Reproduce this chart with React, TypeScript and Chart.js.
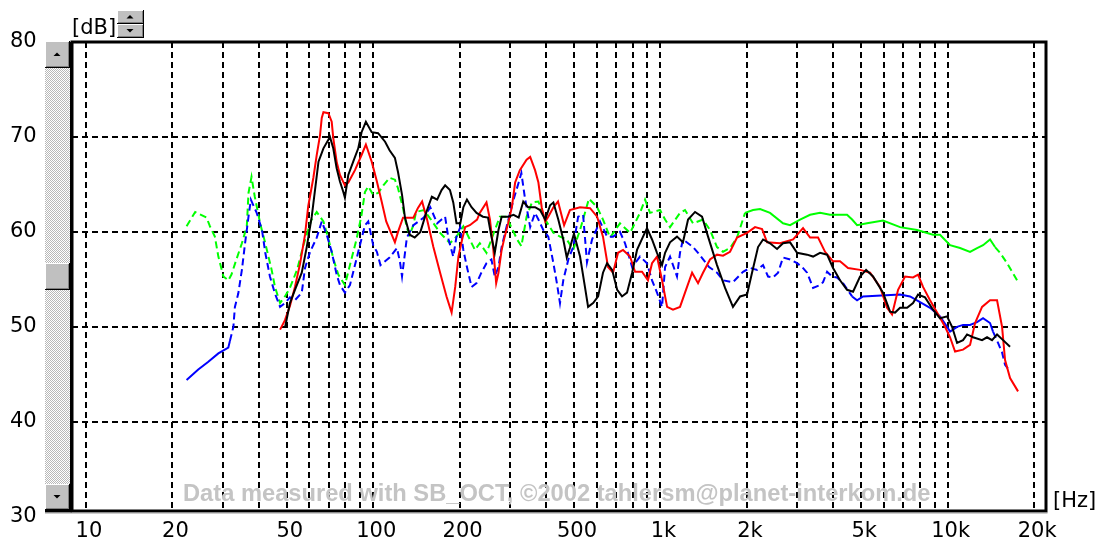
import React, { useEffect, useRef } from 'react';
import { Chart, registerables } from 'chart.js';

Chart.register(...registerables);

// ---- axes ----
const xGridHz = [10, 20, 30, 40, 50, 60, 70, 80, 90, 100, 200, 300, 400, 500, 600, 700, 800, 900,
  1000, 2000, 3000, 4000, 5000, 6000, 7000, 8000, 9000, 10000, 20000];
const xTickLabels: Record<number, string> = {
  10: '10', 20: '20', 50: '50', 100: '100', 200: '200', 500: '500',
  1000: '1k', 2000: '2k', 5000: '5k', 10000: '10k', 20000: '20k',
};
const yTicks = [30, 40, 50, 60, 70, 80];
const xMin = 8.94;
const xMax = 22000;
const yMin = 30.6;
const yMax = 80;

// ---- series: [Hz, dB] ----
const green: [number, number][] = [
  [22.4, 60.6], [24.0, 62.1], [26.3, 61.5], [27.0, 60.6], [28.1, 59.5], [28.9, 57.4], [30.1, 55.3], [31.3, 54.9],
  [32.1, 55.5], [33.4, 57.1], [34.9, 58.8], [36.3, 60.6], [36.8, 64.1], [37.7, 65.8], [38.7, 63.7], [40.4, 60.9],
  [42.1, 58.8], [44.3, 56.0], [45.5, 54.2], [47.4, 52.5], [49.3, 53.2], [51.3, 54.1], [54.3, 56.0], [57.4, 58.8],
  [60.8, 61.2], [63.6, 62.1], [67.1, 61.1], [69.8, 59.3], [72.6, 57.2], [75.6, 55.5], [79.7, 54.4], [83.0, 56.5],
  [87.6, 59.3], [91.1, 61.8], [93.6, 64.2], [96.1, 64.8], [100, 63.9], [104, 64.1], [108.5, 64.9], [114, 65.7],
  [119, 65.5], [122, 64.6], [127, 62.5], [131, 60.4], [134, 59.7], [138, 60.7], [141, 62.1], [150, 62.3],
  [158, 61.4], [171, 59.9], [185, 58.8], [195, 59.5], [206, 60.6], [217, 59.2], [226, 58.1], [235, 58.8],
  [248, 57.8], [258, 59.2], [276, 61.6], [291, 61.6], [317, 59.2], [328, 58.5], [342, 61.6], [357, 63.1],
  [376, 63.2], [397, 61.3], [424, 59.9], [447, 59.5], [472, 59.2], [497, 58.1], [525, 60.2], [564, 63.5],
  [602, 62.6], [631, 61.3], [668, 59.4], [723, 60.9], [784, 59.9], [849, 62.0], [884, 63.4], [920, 62.0],
  [997, 62.3], [1038, 61.3], [1080, 60.5], [1170, 62.0], [1218, 62.3], [1299, 60.9], [1407, 61.3], [1488, 60.2],
  [1574, 58.4], [1652, 57.9], [1747, 58.3], [1848, 59.4], [1971, 62.0], [2101, 62.3], [2223, 62.4], [2408, 62.0],
  [2672, 60.9], [2828, 60.7], [3063, 61.3], [3319, 61.8], [3596, 62.0], [3895, 61.8], [4464, 61.8], [4649, 61.3],
  [4838, 60.7], [5241, 60.9], [5957, 61.2], [6828, 60.5], [7826, 60.2], [8894, 59.7], [9408, 59.7], [10195, 58.6],
  [11045, 58.3], [11967, 57.9], [12659, 58.3], [13281, 58.6], [14047, 59.2], [14622, 58.4], [15222, 57.8],
  [16102, 56.7], [17444, 54.9],
];

const blue: [number, number][] = [
  [22.4, 44.4], [24.6, 45.5], [26.6, 46.3], [28.9, 47.2], [31.3, 47.8], [31.7, 48.5], [32.6, 50.0], [33.0, 52.1],
  [33.9, 53.5], [34.9, 56.0], [35.8, 58.8], [36.8, 61.6], [37.5, 63.4], [39.3, 62.0], [41.0, 60.2], [42.1, 57.8],
  [43.7, 55.3], [45.5, 53.5], [47.4, 52.1], [49.3, 52.5], [51.3, 53.1], [53.4, 52.8], [56.4, 53.6], [57.9, 56.2],
  [60.3, 57.9], [63.6, 59.4], [66.2, 61.1], [68.9, 59.7], [71.7, 57.9], [74.6, 55.5], [76.6, 54.4], [79.7, 53.6],
  [83.0, 54.4], [86.4, 56.5], [89.9, 58.6], [93.6, 60.7], [96.1, 61.1], [100, 58.6], [103, 57.9], [106, 56.5],
  [114, 57.3], [121, 58.3], [124, 56.8], [126, 55.3], [131, 59.4], [138, 60.7], [150, 61.5], [158, 62.6],
  [167, 60.9], [173, 61.3], [178, 61.6], [183, 59.2], [190, 57.4], [195, 59.5], [201, 60.5], [206, 58.1],
  [212, 56.3], [220, 54.2], [229, 54.6], [238, 55.7], [248, 56.7], [258, 57.1], [265, 55.3], [273, 56.3],
  [280, 58.4], [291, 60.5], [308, 63.4], [321, 65.2], [328, 66.2], [337, 63.7], [342, 62.6], [352, 60.5],
  [366, 62.0], [376, 61.3], [391, 60.2], [407, 59.5], [424, 56.7], [436, 54.6], [447, 52.5], [459, 54.9],
  [478, 57.1], [497, 58.4], [517, 61.6], [538, 61.8], [555, 56.8], [578, 59.2], [616, 61.1], [652, 59.5],
  [684, 59.5], [723, 60.0], [753, 58.8], [797, 56.3], [849, 57.4], [898, 56.7], [935, 54.9], [973, 53.6],
  [1013, 52.1], [1038, 56.3], [1080, 57.4], [1142, 55.3], [1170, 57.8], [1198, 59.2], [1299, 58.4], [1352, 57.8],
  [1477, 56.3], [1574, 55.7], [1652, 54.9], [1789, 54.7], [1940, 55.8], [2051, 56.2], [2170, 56.0], [2277, 56.5],
  [2370, 55.3], [2466, 55.2], [2568, 55.7], [2672, 57.3], [2828, 57.1], [2991, 56.7], [3113, 56.3], [3240, 55.7],
  [3400, 54.1], [3596, 54.4], [3683, 54.7], [3804, 55.8], [3958, 55.3], [4120, 55.2], [4323, 54.6], [4649, 53.2],
  [4838, 52.8], [5075, 53.2], [6828, 53.4], [7398, 53.2], [8014, 52.6], [8683, 52.0], [9408, 51.1], [9952, 50.0],
  [10195, 49.5], [10784, 50.0], [11313, 50.2], [11967, 50.2], [12659, 50.5], [13281, 50.9], [14047, 50.4],
  [14388, 49.5], [14978, 48.3], [15470, 47.3], [15845, 46.0], [16491, 45.3],
];

const red: [number, number][] = [
  [47.4, 49.7], [49.3, 50.7], [51.3, 52.2], [53.4, 54.2], [55.6, 56.6], [57.9, 59.7], [59.4, 62.7], [61.9, 65.7],
  [63.6, 68.1], [65.3, 70.2], [66.2, 72.0], [67.1, 72.6], [69.8, 72.5], [71.7, 71.6], [72.6, 69.9], [74.6, 67.4],
  [76.6, 66.0], [79.7, 64.9], [81.9, 65.2], [86.4, 66.5], [91.1, 68.1], [94.3, 69.2], [98.8, 67.4], [103, 65.3],
  [107, 63.2], [111, 61.1], [116, 59.7], [119, 58.9], [122, 60.0], [127, 61.5], [138, 61.5], [143, 62.5],
  [148, 63.2], [154, 61.3], [162, 58.4], [171, 55.7], [180, 53.2], [187.5, 51.5], [193, 54.2], [198, 57.4],
  [204, 59.2], [209, 60.5], [217, 60.7], [230, 61.3], [235, 62.0], [248, 63.1], [255, 61.3], [262, 58.1],
  [268, 54.6], [273, 55.7], [280, 58.1], [287, 59.5], [295, 60.9], [304, 62.6], [312, 65.2], [324, 66.5],
  [342, 67.6], [352, 67.9], [366, 66.5], [376, 65.2], [386, 62.6], [397, 61.1], [407, 61.6], [424, 62.6],
  [440, 63.2], [462, 60.7], [484, 62.3], [525, 62.6], [569, 62.5], [602, 61.6], [631, 59.5], [657, 56.3],
  [684, 55.7], [712, 57.8], [741, 58.1], [784, 57.4], [816, 55.8], [863, 55.8], [905, 54.9], [935, 56.7],
  [973, 57.4], [1013, 54.9], [1055, 52.1], [1106, 51.8], [1170, 52.1], [1218, 53.6], [1289, 55.7], [1352, 54.6],
  [1407, 55.7], [1488, 57.1], [1574, 57.6], [1652, 57.5], [1747, 57.9], [1848, 59.4], [2003, 59.9], [2135, 60.5],
  [2259, 60.3], [2352, 58.9], [2609, 58.8], [2897, 59.2], [3137, 60.4], [3319, 59.4], [3539, 59.4], [3743, 57.9],
  [3990, 56.9], [4220, 56.9], [4500, 56.2], [4955, 56.0], [5369, 55.7], [5816, 54.2], [6152, 52.0], [6405, 51.3],
  [6720, 53.9], [7107, 55.3], [7578, 55.2], [7888, 55.5], [8209, 54.2], [8683, 52.8], [9185, 51.5], [9793, 50.0],
  [10195, 48.9], [10612, 47.4], [11313, 47.6], [11967, 48.1], [12457, 50.4], [13177, 52.1], [14047, 52.8],
  [14859, 52.8], [15470, 50.0], [15845, 46.5], [16491, 44.6], [17584, 43.2],
];

const black: [number, number][] = [
  [49.3, 49.9], [51.3, 52.5], [53.4, 53.9], [56.4, 55.7], [58.7, 58.4], [61.1, 61.6], [64.5, 67.4], [67.1, 68.8],
  [69.8, 69.7], [70.7, 70.0], [72.6, 68.8], [74.6, 66.7], [76.6, 65.3], [78.7, 64.2], [79.7, 63.6], [81.9, 66.0],
  [85.2, 67.4], [88.7, 68.8], [91.1, 70.5], [94.3, 71.6], [98.8, 70.5], [104, 70.4], [110, 69.5], [114, 68.6],
  [119, 67.8], [122, 66.3], [126, 63.9], [129, 61.5], [134, 59.7], [139.5, 59.4], [146, 60.0], [154, 62.3],
  [160, 63.7], [167, 63.4], [173, 64.4], [178, 64.9], [185, 64.4], [190, 63.1], [195, 60.9], [201, 60.9],
  [206, 62.6], [212, 63.4], [220, 62.6], [229, 62.0], [241, 61.6], [251, 61.5], [258, 59.5], [265, 57.8],
  [273, 60.2], [280, 61.6], [295, 61.6], [308, 61.8], [321, 61.5], [333, 63.2], [346, 62.6], [366, 62.6],
  [381, 62.3], [397, 61.3], [413, 62.8], [424, 63.1], [441, 61.3], [459, 59.2], [472, 57.3], [484, 58.3],
  [500, 59.8], [525, 57.4], [546, 54.2], [560, 52.1], [583, 52.5], [607, 53.2], [631, 55.7], [652, 56.7],
  [679, 56.0], [707, 53.9], [735, 53.2], [765, 53.6], [797, 55.7], [829, 58.1], [870, 59.5], [898, 60.4],
  [935, 59.2], [973, 57.8], [1013, 56.5], [1038, 57.8], [1080, 58.9], [1142, 59.5], [1198, 58.9], [1248, 61.3],
  [1320, 62.1], [1396, 61.6], [1465, 59.5], [1574, 56.5], [1679, 54.1], [1789, 52.1], [1894, 53.2], [2003, 53.4],
  [2084, 55.7], [2187, 58.4], [2277, 59.2], [2408, 58.8], [2547, 58.2], [2672, 58.8], [2828, 58.9], [2991, 57.8],
  [3240, 57.6], [3400, 57.4], [3596, 57.8], [3804, 57.6], [3990, 56.2], [4220, 54.9], [4464, 53.9], [4685, 53.7],
  [4955, 55.3], [5200, 56.0], [5499, 55.3], [5957, 53.6], [6302, 51.6], [6560, 51.5], [6828, 52.0], [7223, 52.0],
  [7578, 52.5], [7888, 53.4], [8342, 53.1], [8894, 51.8], [9408, 50.9], [9952, 51.1], [10361, 50.0], [10784, 48.3],
  [11313, 48.6], [11683, 49.2], [12258, 48.9], [13177, 48.6], [13715, 48.9], [14276, 48.6], [14859, 49.2],
  [15592, 48.6], [16491, 47.9],
];

// frequency ranges (Hz) where the dashed-looking traces are drawn solid
const greenSolid: [number, number][] = [[1900, 14100]];
const blueSolid: [number, number][] = [[0, 31.4], [4600, 14100]];

const inRanges = (v: number, ranges: [number, number][]) => ranges.some(([a, b]) => v >= a && v < b);
const toPts = (s: [number, number][]) => s.map(([x, y]) => ({ x, y }));

function drawButton(ctx: CanvasRenderingContext2D, x: number, y: number, w: number, h: number, dir: number) {
  ctx.fillStyle = '#c0c0c0';
  ctx.fillRect(x, y, w, h);
  ctx.fillStyle = '#ffffff';
  ctx.fillRect(x, y, w - 1, 1);
  ctx.fillRect(x, y, 1, h - 1);
  ctx.fillStyle = '#808080';
  ctx.fillRect(x + 1, y + h - 2, w - 2, 1);
  ctx.fillRect(x + w - 2, y + 1, 1, h - 2);
  ctx.fillStyle = '#000000';
  ctx.fillRect(x, y + h - 1, w, 1);
  ctx.fillRect(x + w - 1, y, 1, h);
  if (dir !== 0) {
    const cx = x + w / 2 - 0.5;
    const cy = y + h / 2 - 0.5;
    ctx.beginPath();
    if (dir < 0) {
      ctx.moveTo(cx - 3.5, cy + 2);
      ctx.lineTo(cx + 3.5, cy + 2);
      ctx.lineTo(cx, cy - 1.5);
    } else {
      ctx.moveTo(cx - 3.5, cy - 1.5);
      ctx.lineTo(cx + 3.5, cy - 1.5);
      ctx.lineTo(cx, cy + 2);
    }
    ctx.closePath();
    ctx.fill();
  }
}

const chromePlugin = {
  id: 'chrome',
  afterDraw(chart: any) {
    const { ctx, chartArea: a } = chart;
    ctx.save();
    // plot frame
    ctx.strokeStyle = '#000';
    ctx.lineWidth = 3;
    ctx.strokeRect(a.left, a.top, a.right - a.left, a.bottom - a.top);
    ctx.fillStyle = '#000';
    ctx.fillRect(a.left - 2, a.top, 1, a.bottom - a.top);
    // scrollbar
    const sx = a.left - 27;
    const sw = 25;
    const pc = document.createElement('canvas');
    pc.width = 2;
    pc.height = 2;
    const p = pc.getContext('2d')!;
    p.fillStyle = '#ffffff';
    p.fillRect(0, 0, 2, 2);
    p.fillStyle = '#b8b8b8';
    p.fillRect(0, 0, 1, 1);
    p.fillRect(1, 1, 1, 1);
    const pat = ctx.createPattern(pc, 'repeat');
    ctx.fillStyle = pat;
    ctx.fillRect(sx, a.top, sw, a.bottom - a.top);
    drawButton(ctx, sx, a.top - 1, sw, 27, -1);
    drawButton(ctx, sx, a.bottom - 27, sw, 26, 1);
    drawButton(ctx, sx, a.top + 221, sw, 27, 0);
    // bottom line under scrollbar
    ctx.fillStyle = '#000';
    ctx.fillRect(sx, a.bottom - 1.5, a.left - sx, 3);
    ctx.fillStyle = '#9a9a9a';
    ctx.fillRect(sx, a.bottom + 1.5, a.right - sx + 1.5, 1);
    // spin control next to [dB]
    drawButton(ctx, a.left + 45, 10, 27, 14, -1);
    drawButton(ctx, a.left + 45, 24, 27, 14, 1);
    ctx.restore();
  },
};

export default function App() {
  const ref = useRef<HTMLCanvasElement | null>(null);

  useEffect(() => {
    if (!ref.current) return;
    const lineDs = (label: string, color: string, data: [number, number][], solid?: [number, number][]) => ({
      label,
      data: toPts(data),
      borderColor: color,
      backgroundColor: color,
      borderWidth: 2,
      pointRadius: 0,
      tension: 0,
      fill: false,
      segment: solid
        ? { borderDash: (c: any) => (inRanges(c.p0.parsed.x, solid) ? undefined : [7, 4]) }
        : undefined,
    });

    const chart = new Chart(ref.current, {
      type: 'line',
      data: {
        datasets: [
          lineDs('black', '#000000', black),
          lineDs('red', '#ff0000', red),
          lineDs('blue', '#0000ff', blue, blueSolid),
          lineDs('green', '#00ff00', green, greenSolid),
        ] as any,
      },
      plugins: [chromePlugin],
      options: {
        responsive: false,
        animation: false,
        devicePixelRatio: 1,
        layout: { padding: { top: 42, right: 52, left: 10, bottom: 0 } },
        plugins: { legend: { display: false }, tooltip: { enabled: false } },
        scales: {
          x: {
            type: 'logarithmic',
            position: 'bottom',
            min: xMin,
            max: xMax,
            bounds: 'data',
            afterBuildTicks: (axis: any) => {
              axis.ticks = xGridHz.map((v) => ({ value: v }));
            },
            afterFit: (axis: any) => {
              axis.height = 32;
            },
            ticks: {
              autoSkip: false,
              maxRotation: 0,
              minRotation: 0,
              padding: 8,
              labelOffset: 3,
              color: '#000',
              font: { family: 'DejaVu Sans', size: 21 },
              callback: (v: any) => xTickLabels[Number(v)] ?? '',
            },
            grid: { color: '#000', lineWidth: 2, drawTicks: false },
            border: { display: false, dash: [6, 4] },
          },
          y: {
            type: 'linear',
            min: yMin,
            max: yMax,
            bounds: 'data',
            afterBuildTicks: (axis: any) => {
              axis.ticks = yTicks.map((v) => ({ value: v }));
            },
            afterFit: (axis: any) => {
              axis.width = 62;
            },
            ticks: {
              autoSkip: false,
              padding: 0,
              crossAlign: 'far',
              color: '#000',
              font: { family: 'DejaVu Sans', size: 21 },
              callback: (v: any) => String(v),
            },
            grid: {
              color: (c: any) => (c.tick && c.tick.value < yMin ? 'rgba(0,0,0,0)' : '#000'),
              lineWidth: 2,
              drawTicks: false,
            },
            border: { display: false, dash: [6, 4] },
          },
        },
      } as any,
    });
    return () => chart.destroy();
  }, []);

  const lbl: React.CSSProperties = {
    position: 'absolute',
    fontFamily: '"DejaVu Sans"',
    fontSize: 21,
    lineHeight: '21px',
    color: '#000',
    whiteSpace: 'nowrap',
  };

  return (
    <div style={{ position: 'absolute', left: 0, top: 0, width: 1098, height: 543, background: '#fff', overflow: 'hidden' }}>
      <canvas ref={ref} width={1098} height={543} style={{ display: 'block' }} />
      <div style={{ ...lbl, left: 72, top: 17 }}>[dB]</div>
      <div style={{ ...lbl, left: 1053, top: 490 }}>[Hz]</div>
      <div
        style={{
          position: 'absolute',
          left: 183,
          top: 482,
          fontFamily: '"Liberation Sans", Arial, sans-serif',
          fontWeight: 'bold',
          fontSize: 23.7,
          lineHeight: '23.7px',
          color: '#c4c4c4',
          whiteSpace: 'nowrap',
        }}
      >
        Data measured with SB_OCT, ©2002 tahlersm@planet-interkom.de
      </div>
    </div>
  );
}
